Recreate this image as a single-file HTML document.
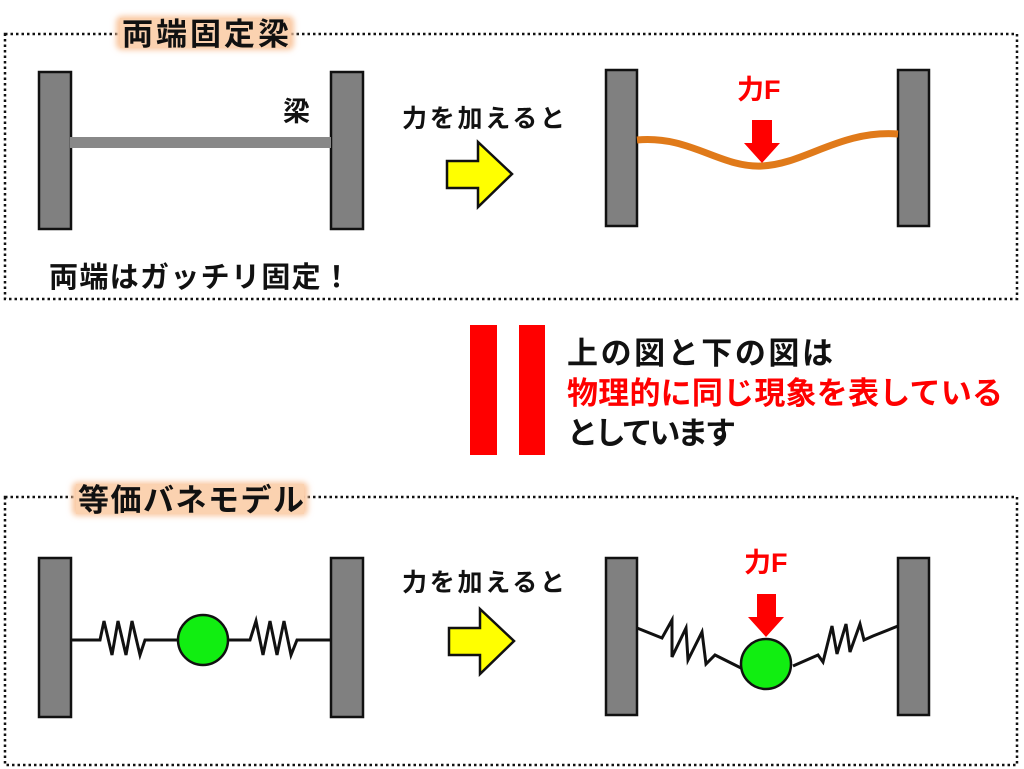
<!DOCTYPE html>
<html><head><meta charset="utf-8"><style>
html,body{margin:0;padding:0;background:#fff;}
svg{display:block;}
text{font-family:"Liberation Sans","Noto Sans CJK JP",sans-serif;font-weight:bold;}
</style></head><body>
<svg width="1024" height="769" viewBox="0 0 1024 769" xmlns="http://www.w3.org/2000/svg">
<defs>
<filter id="glow" x="-20%" y="-50%" width="140%" height="200%"><feGaussianBlur stdDeviation="3"/></filter>
</defs>
<!-- top box -->
<rect x="5" y="34" width="1012" height="265" fill="none" stroke="#111" stroke-width="2.5" stroke-dasharray="2.5 3"/>
<rect x="116" y="16" width="178" height="34" rx="6" fill="#f9c7a0" filter="url(#glow)"/>
<rect x="120" y="18" width="170" height="30" fill="#fbd2b0"/>
<text x="122" y="45" font-size="31" textLength="167" fill="#111">両端固定梁</text>

<rect x="39" y="72" width="32" height="157" fill="#808080" stroke="#111" stroke-width="2.5"/>
<rect x="331" y="72" width="32" height="157" fill="#808080" stroke="#111" stroke-width="2.5"/>
<rect x="70" y="137" width="261" height="11" fill="#888"/>
<text x="283" y="121" font-size="27" fill="#111">梁</text>
<text x="402" y="127" font-size="25" textLength="163" fill="#111">力を加えると</text>
<path d="M447,161 H478 V142 L512,174 L478,207 V188 H447 Z" fill="#ffff00" stroke="#111" stroke-width="2.5"/>

<rect x="606" y="70" width="31" height="156" fill="#808080" stroke="#111" stroke-width="2.5"/>
<rect x="898" y="70" width="31" height="156" fill="#808080" stroke="#111" stroke-width="2.5"/>
<path d="M637,140 C690,135 720,168 762,166 C805,164 840,130 898,134" fill="none" stroke="#e07a1a" stroke-width="7"/>
<path d="M752,120 H772 V143 H780 L762,163 L744,143 H752 Z" fill="#ff0000"/>
<text x="737" y="99" font-size="27" fill="#ff0000">力F</text>

<text x="49" y="287" font-size="29" textLength="302" fill="#111">両端はガッチリ固定！</text>

<!-- middle -->
<rect x="470" y="325" width="27" height="130" fill="#ff0000"/>
<rect x="519" y="325" width="26" height="130" fill="#ff0000"/>
<text x="567" y="364" font-size="31" textLength="266" fill="#111">上の図と下の図は</text>
<text x="567" y="404" font-size="31" textLength="436" fill="#ff0000">物理的に同じ現象を表している</text>
<text x="567" y="444" font-size="31" textLength="169" fill="#111">としています</text>

<!-- bottom box -->
<rect x="5" y="497" width="1012" height="268" fill="none" stroke="#111" stroke-width="2.5" stroke-dasharray="2.5 3"/>
<rect x="72" y="482" width="236" height="34" rx="6" fill="#f9c7a0" filter="url(#glow)"/>
<rect x="76" y="484" width="228" height="30" fill="#fbd2b0"/>
<text x="78" y="511" font-size="31" textLength="226" fill="#111">等価バネモデル</text>

<rect x="39" y="558" width="32" height="159" fill="#808080" stroke="#111" stroke-width="2.5"/>
<rect x="331" y="558" width="32" height="159" fill="#808080" stroke="#111" stroke-width="2.5"/>
<polyline points="71,640 100,640 104,621 112,655 118,621 126,655 132,621 140,655 145,640 178,640" fill="none" stroke="#111" stroke-width="3"/>
<polyline points="228,640 250,640 256,621 263,655 270,621 277,655 284,621 291,655 297,640 331,640" fill="none" stroke="#111" stroke-width="3"/>
<circle cx="203" cy="640" r="25" fill="#11ee11" stroke="#111" stroke-width="2.5"/>
<text x="402" y="591" font-size="25" textLength="163" fill="#111">力を加えると</text>
<path d="M449,628 H480 V609 L514,641 L480,674 V655 H449 Z" fill="#ffff00" stroke="#111" stroke-width="2.5"/>

<rect x="606" y="558" width="31" height="157" fill="#808080" stroke="#111" stroke-width="2.5"/>
<rect x="898" y="558" width="31" height="157" fill="#808080" stroke="#111" stroke-width="2.5"/>
<polyline points="637,628 662,638 672,620 672,657 686,628 688,660 702,632 706,664 715,655 741,668" fill="none" stroke="#111" stroke-width="3"/>
<polyline points="793,666 818,655 823,662 832,626 837,654 846,624 850,652 860,624 864,640 873,636 898,626" fill="none" stroke="#111" stroke-width="3"/>
<circle cx="766" cy="664" r="25" fill="#11ee11" stroke="#111" stroke-width="2.5"/>
<path d="M757,594 H776 V617 H784 L766,637 L748,617 H757 Z" fill="#ff0000"/>
<text x="744" y="572" font-size="27" fill="#ff0000">力F</text>
</svg>
</body></html>
